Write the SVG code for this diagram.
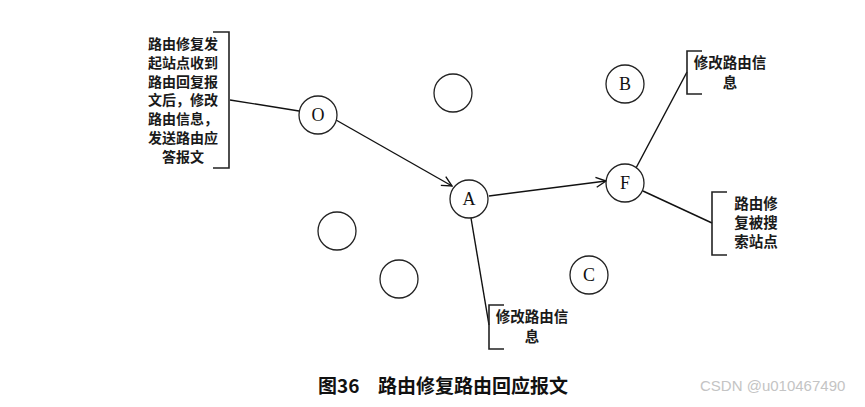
<svg xmlns="http://www.w3.org/2000/svg" width="865" height="407" viewBox="0 0 865 407">
<defs>
<marker id="arr" viewBox="0 0 12 12" refX="11" refY="6" markerWidth="12" markerHeight="12" markerUnits="userSpaceOnUse" orient="auto">
<path d="M1,1 L11,6 L1,11" fill="none" stroke="#111" stroke-width="1.4"/>
</marker>
<style>
.n{fill:#fff;stroke:#222;stroke-width:1.3}
.nl{font-family:"Liberation Serif","Times New Roman",serif;font-size:18px;fill:#111;text-anchor:middle}
.c{stroke:#111;stroke-width:1.4;fill:none}
.b{stroke:#222;stroke-width:1.6;fill:none}
.t{font-family:"Noto Sans CJK SC","Noto Sans",sans-serif;font-size:14.5px;font-weight:bold;fill:#1a1a1a;text-anchor:middle}
.tl{font-size:14px}
.cap{font-family:"Noto Sans CJK SC","Noto Sans",sans-serif;font-size:19px;font-weight:bold;fill:#111}
.wm{font-family:"Liberation Sans",Arial,sans-serif;font-size:15px;fill:#c4c4c4}
</style>
</defs>
<rect width="865" height="407" fill="#fff"/>
<g id="connectors">
<line class="c" x1="230" y1="100" x2="299" y2="111"/>
<line class="c" x1="336" y1="120" x2="452" y2="186" marker-end="url(#arr)"/>
<line class="c" x1="489" y1="196" x2="606" y2="181" marker-end="url(#arr)"/>
<line class="c" x1="636" y1="168" x2="687" y2="72"/>
<line class="c" x1="643" y1="191" x2="712" y2="223"/>
<line class="c" x1="471" y1="218" x2="489" y2="325"/>
</g>
<g id="node-O"><circle class="n" cx="318" cy="115" r="19"/><text class="nl" x="318" y="121">O</text></g>
<g id="node-e1"><circle class="n" cx="453" cy="93" r="19"/></g>
<g id="node-B"><circle class="n" cx="625" cy="84" r="19"/><text class="nl" x="625" y="90">B</text></g>
<g id="node-A"><circle class="n" cx="469" cy="199" r="19"/><text class="nl" x="469" y="205">A</text></g>
<g id="node-F"><circle class="n" cx="625" cy="183" r="19"/><text class="nl" x="625" y="189">F</text></g>
<g id="node-e2"><circle class="n" cx="337" cy="231" r="19"/></g>
<g id="node-e3"><circle class="n" cx="399" cy="279" r="19"/></g>
<g id="node-C"><circle class="n" cx="589" cy="275" r="19"/><text class="nl" x="589" y="281">C</text></g>
<g id="note-O">
<path class="b" d="M213,32 H229 V168 H213"/>
<text class="t tl"><tspan x="183" y="49">路由修复发</tspan><tspan x="183" y="67.8">起站点收到</tspan><tspan x="183" y="86.6">路由回复报</tspan><tspan x="183" y="105.4">文后，修改</tspan><tspan x="183" y="124.2">路由信息，</tspan><tspan x="183" y="143">发送路由应</tspan><tspan x="183" y="161.8">答报文</tspan></text>
</g>
<g id="note-F1">
<path class="b" d="M702,51 H687 V94 H702"/>
<text class="t"><tspan x="730" y="68">修改路由信</tspan><tspan x="730" y="88">息</tspan></text>
</g>
<g id="note-F2">
<path class="b" d="M727,192 H712 V255 H727"/>
<text class="t"><tspan x="756" y="209">路由修</tspan><tspan x="756" y="228">复被搜</tspan><tspan x="756" y="247">索站点</tspan></text>
</g>
<g id="note-A">
<path class="b" d="M504,305 H489 V349 H504"/>
<text class="t"><tspan x="532" y="322">修改路由信</tspan><tspan x="532" y="342">息</tspan></text>
</g>
<text class="cap" x="318" y="393">图36</text>
<text class="cap" x="378" y="393">路由修复路由回应报文</text>
<text class="wm" x="700" y="391">CSDN @u010467490</text>
</svg>
